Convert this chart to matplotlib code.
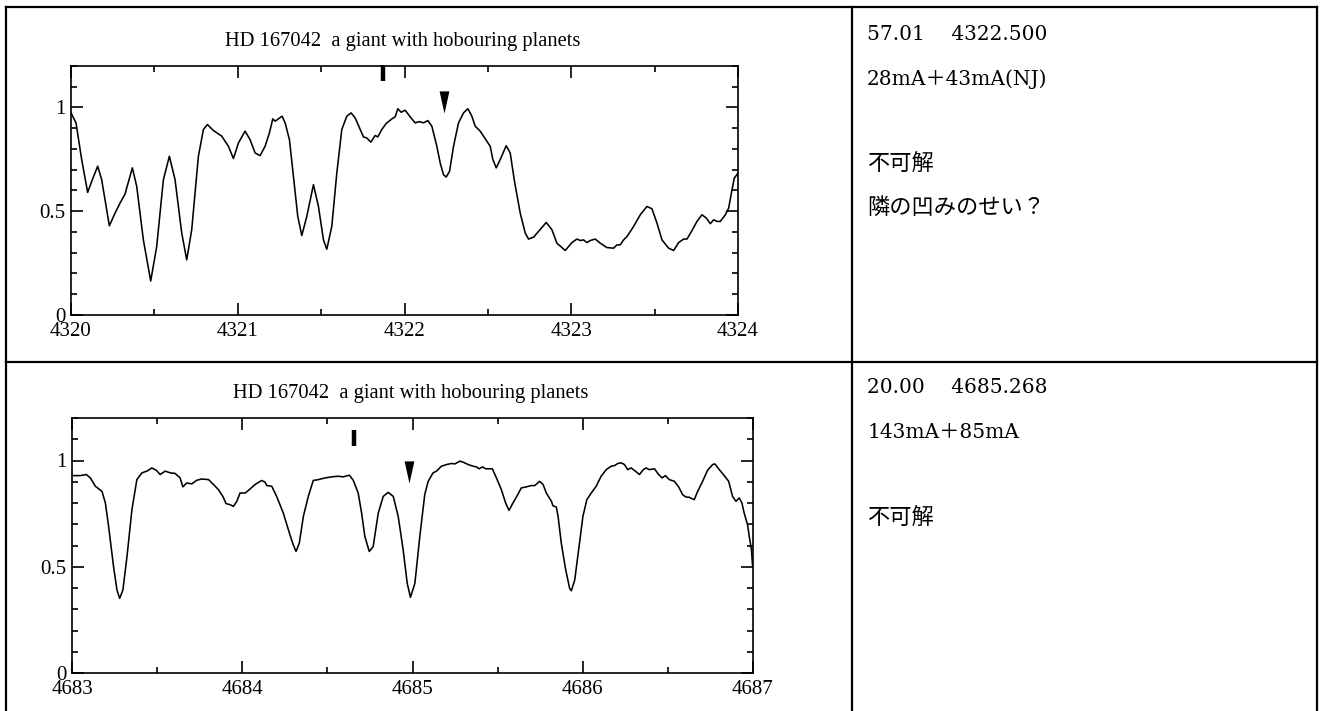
import matplotlib
matplotlib.use("Agg")
import matplotlib.pyplot as plt
from matplotlib.lines import Line2D
from matplotlib.ticker import MultipleLocator

W, H = 1322, 711

# spectrum 1 : 4320-4324 A
wave1 = [4320.000, 4320.030, 4320.064, 4320.100, 4320.124, 4320.160, 4320.184, 4320.230,
         4320.264, 4320.294, 4320.324, 4320.368, 4320.394, 4320.434, 4320.478, 4320.514,
         4320.554, 4320.590, 4320.624, 4320.664, 4320.694, 4320.724, 4320.764, 4320.794,
         4320.818, 4320.854, 4320.904, 4320.944, 4320.974, 4321.004, 4321.044, 4321.074,
         4321.104, 4321.134, 4321.164, 4321.190, 4321.210, 4321.224, 4321.238, 4321.266,
         4321.284, 4321.310, 4321.334, 4321.360, 4321.384, 4321.414, 4321.454, 4321.484,
         4321.514, 4321.534, 4321.564, 4321.594, 4321.624, 4321.654, 4321.680, 4321.704,
         4321.734, 4321.754, 4321.774, 4321.798, 4321.824, 4321.840, 4321.864, 4321.890,
         4321.924, 4321.944, 4321.960, 4321.980, 4322.004, 4322.034, 4322.064, 4322.090,
         4322.114, 4322.140, 4322.164, 4322.194, 4322.214, 4322.234, 4322.250, 4322.270,
         4322.294, 4322.324, 4322.354, 4322.380, 4322.404, 4322.424, 4322.454, 4322.494,
         4322.514, 4322.530, 4322.550, 4322.574, 4322.610, 4322.634, 4322.658, 4322.694,
         4322.724, 4322.744, 4322.774, 4322.804, 4322.850, 4322.884, 4322.914, 4322.964,
         4323.004, 4323.034, 4323.054, 4323.074, 4323.094, 4323.114, 4323.144, 4323.174,
         4323.214, 4323.254, 4323.274, 4323.294, 4323.314, 4323.334, 4323.374, 4323.414,
         4323.454, 4323.484, 4323.514, 4323.544, 4323.584, 4323.614, 4323.644, 4323.674,
         4323.694, 4323.724, 4323.754, 4323.784, 4323.810, 4323.834, 4323.854, 4323.874,
         4323.894, 4323.924, 4323.944, 4323.964, 4323.978, 4324.004]
flux1 = [0.974, 0.926, 0.749, 0.591, 0.644, 0.717, 0.652, 0.430,
         0.491, 0.539, 0.583, 0.709, 0.620, 0.362, 0.164, 0.330,
         0.652, 0.765, 0.652, 0.395, 0.266, 0.411, 0.765, 0.894,
         0.918, 0.889, 0.862, 0.813, 0.754, 0.829, 0.886, 0.845,
         0.781, 0.768, 0.813, 0.878, 0.945, 0.934, 0.942, 0.958,
         0.926, 0.845, 0.668, 0.475, 0.383, 0.475, 0.628, 0.523,
         0.362, 0.317, 0.427, 0.684, 0.894, 0.958, 0.974, 0.950,
         0.894, 0.858, 0.853, 0.833, 0.865, 0.858, 0.894, 0.923,
         0.945, 0.955, 0.994, 0.977, 0.987, 0.955, 0.926, 0.932,
         0.926, 0.937, 0.910, 0.813, 0.733, 0.676, 0.665, 0.692,
         0.813, 0.926, 0.974, 0.994, 0.958, 0.910, 0.886, 0.837,
         0.813, 0.749, 0.709, 0.749, 0.816, 0.781, 0.652, 0.491,
         0.395, 0.366, 0.375, 0.403, 0.446, 0.411, 0.346, 0.311,
         0.349, 0.366, 0.359, 0.362, 0.349, 0.359, 0.366, 0.346,
         0.325, 0.322, 0.338, 0.338, 0.362, 0.378, 0.427, 0.483,
         0.523, 0.512, 0.443, 0.362, 0.322, 0.311, 0.349, 0.366,
         0.366, 0.407, 0.451, 0.483, 0.467, 0.440, 0.459, 0.451,
         0.451, 0.483, 0.515, 0.604, 0.660, 0.688]

# spectrum 2 : 4683-4687 A
wave2 = [4683.000, 4683.049, 4683.084, 4683.108, 4683.137, 4683.176, 4683.196, 4683.215,
         4683.244, 4683.264, 4683.280, 4683.299, 4683.323, 4683.352, 4683.381, 4683.411,
         4683.440, 4683.469, 4683.495, 4683.518, 4683.547, 4683.577, 4683.606, 4683.635,
         4683.651, 4683.674, 4683.704, 4683.733, 4683.762, 4683.802, 4683.831, 4683.860,
         4683.886, 4683.905, 4683.929, 4683.948, 4683.968, 4683.987, 4684.017, 4684.042,
         4684.075, 4684.114, 4684.134, 4684.144, 4684.173, 4684.202, 4684.241, 4684.271,
         4684.296, 4684.316, 4684.335, 4684.359, 4684.388, 4684.417, 4684.447, 4684.486,
         4684.525, 4684.564, 4684.593, 4684.629, 4684.652, 4684.681, 4684.701, 4684.720,
         4684.746, 4684.769, 4684.799, 4684.828, 4684.857, 4684.887, 4684.916, 4684.945,
         4684.969, 4684.988, 4685.014, 4685.043, 4685.072, 4685.092, 4685.121, 4685.141,
         4685.170, 4685.200, 4685.229, 4685.249, 4685.278, 4685.298, 4685.327, 4685.356,
         4685.376, 4685.391, 4685.411, 4685.430, 4685.454, 4685.469, 4685.493, 4685.522,
         4685.547, 4685.567, 4685.590, 4685.616, 4685.639, 4685.669, 4685.698, 4685.718,
         4685.747, 4685.767, 4685.786, 4685.816, 4685.825, 4685.845, 4685.855, 4685.874,
         4685.900, 4685.923, 4685.933, 4685.953, 4685.978, 4686.001, 4686.024, 4686.050,
         4686.079, 4686.108, 4686.138, 4686.167, 4686.186, 4686.206, 4686.225, 4686.245,
         4686.264, 4686.284, 4686.309, 4686.333, 4686.356, 4686.372, 4686.391, 4686.421,
         4686.446, 4686.466, 4686.485, 4686.509, 4686.538, 4686.563, 4686.587, 4686.606,
         4686.626, 4686.645, 4686.655, 4686.675, 4686.704, 4686.733, 4686.763, 4686.776,
         4686.802, 4686.831, 4686.857, 4686.880, 4686.900, 4686.919, 4686.935, 4686.948,
         4686.968, 4686.978, 4686.991, 4686.997]
flux2 = [0.929, 0.929, 0.934, 0.918, 0.879, 0.855, 0.800, 0.690,
         0.501, 0.391, 0.351, 0.391, 0.548, 0.769, 0.910, 0.942,
         0.950, 0.965, 0.954, 0.934, 0.950, 0.942, 0.939, 0.918,
         0.876, 0.894, 0.890, 0.907, 0.913, 0.910, 0.887, 0.863,
         0.831, 0.797, 0.792, 0.784, 0.808, 0.847, 0.847, 0.863,
         0.887, 0.906, 0.898, 0.882, 0.879, 0.831, 0.753, 0.674,
         0.611, 0.572, 0.611, 0.737, 0.831, 0.906, 0.910, 0.918,
         0.923, 0.926, 0.923, 0.931, 0.907, 0.847, 0.753, 0.643,
         0.572, 0.595, 0.753, 0.831, 0.850, 0.831, 0.737, 0.580,
         0.422, 0.356, 0.422, 0.643, 0.840, 0.902, 0.942, 0.950,
         0.973, 0.981, 0.986, 0.984, 0.997, 0.992, 0.981, 0.973,
         0.970, 0.961, 0.970, 0.961, 0.961, 0.961, 0.918, 0.863,
         0.800, 0.765, 0.800, 0.836, 0.871, 0.876, 0.882, 0.882,
         0.902, 0.887, 0.847, 0.808, 0.787, 0.781, 0.737, 0.611,
         0.485, 0.398, 0.387, 0.438, 0.595, 0.737, 0.816, 0.847,
         0.879, 0.926, 0.957, 0.973, 0.976, 0.986, 0.989, 0.981,
         0.957, 0.965, 0.950, 0.934, 0.957, 0.965, 0.957, 0.961,
         0.934, 0.918, 0.929, 0.910, 0.902, 0.876, 0.839, 0.828,
         0.827, 0.819, 0.816, 0.855, 0.902, 0.954, 0.981, 0.984,
         0.957, 0.929, 0.902, 0.831, 0.808, 0.824, 0.800, 0.753,
         0.698, 0.643, 0.580, 0.509]

title = "HD 167042  a giant with hobouring planets"
xlims = [(4320, 4324), (4683, 4687)]
bar_marks = [(4321.87, 1.167), (4684.654, 1.104)]
tri_marks = [(4322.235, 1.027), (4684.978, 0.946)]

notes1 = ["57.01\u3000 4322.500", "28mA\uff0b43mA(NJ)", "不可解", "隣の凹みのせい？"]
notes2 = ["20.00\u3000 4685.268", "143mA\uff0b85mA", "不可解"]
notes1_base = [40, 85, 170, 214]
notes2_base = [393, 438, 524]

plt.rcParams["font.family"] = ["Liberation Serif", "Noto Sans CJK JP", "DejaVu Sans"]
note_font = ["DejaVu Serif", "Noto Sans CJK JP"]

fig = plt.figure(figsize=(W / 100, H / 100), dpi=100)


def px_axes(left, top, right, bottom):
    return fig.add_axes([left / W, 1 - bottom / H, (right - left) / W, (bottom - top) / H])


def fig_line(x0, y0, x1, y1):
    fig.add_artist(Line2D([x0 / W, x1 / W], [1 - y0 / H, 1 - y1 / H],
                          transform=fig.transFigure, color="black", lw=1.6))


# table frame
fig_line(6, 7, 1317, 7)
fig_line(6, 362, 1317, 362)
fig_line(6, 7, 6, 711)
fig_line(852, 7, 852, 711)
fig_line(1317, 7, 1317, 711)

tri_path = [(-0.22, 0.5), (0.22, 0.5), (0.0, -0.5)]

panels = [
    (px_axes(71, 66, 738, 315), wave1, flux1, 403, 46),
    (px_axes(72, 418, 753, 673), wave2, flux2, 411, 398),
]
for i, (ax, w, f, tx, ty) in enumerate(panels):
    ax.plot(w, f, color="black", lw=1.15)
    ax.set_xlim(*xlims[i])
    ax.set_ylim(0, 1.2)
    ax.xaxis.set_major_locator(MultipleLocator(1))
    ax.xaxis.set_minor_locator(MultipleLocator(0.5))
    ax.yaxis.set_minor_locator(MultipleLocator(0.1))
    ax.set_yticks([0, 0.5, 1])
    ax.set_yticklabels(["0", "0.5", "1"])
    ax.tick_params(which="both", direction="in", top=True, right=True,
                   labelsize=15, width=1.2, pad=4)
    ax.tick_params(axis="x", which="major", pad=5)
    ax.tick_params(which="major", length=8.5)
    ax.tick_params(which="minor", length=4.3)
    for s in ax.spines.values():
        s.set_linewidth(1.2)
    bx, by = bar_marks[i]
    ax.plot([bx], [by], marker="|", ms=11, mew=3.2, color="black", clip_on=False)
    mx, my = tri_marks[i]
    ax.plot([mx], [my], marker=tri_path, ms=16, color="black", mec="black", mew=0)
    fig.text(tx / W, 1 - ty / H, title, ha="center", va="baseline", fontsize=14.8)

for notes, bases in [(notes1, notes1_base), (notes2, notes2_base)]:
    for txt, b in zip(notes, bases):
        size = 16 if txt[0] > "\u3000" else 14.5
        fig.text(867 / W, 1 - b / H, txt, ha="left", va="baseline",
                 fontsize=size, family=note_font)

fig.savefig("out.png", dpi=100)
